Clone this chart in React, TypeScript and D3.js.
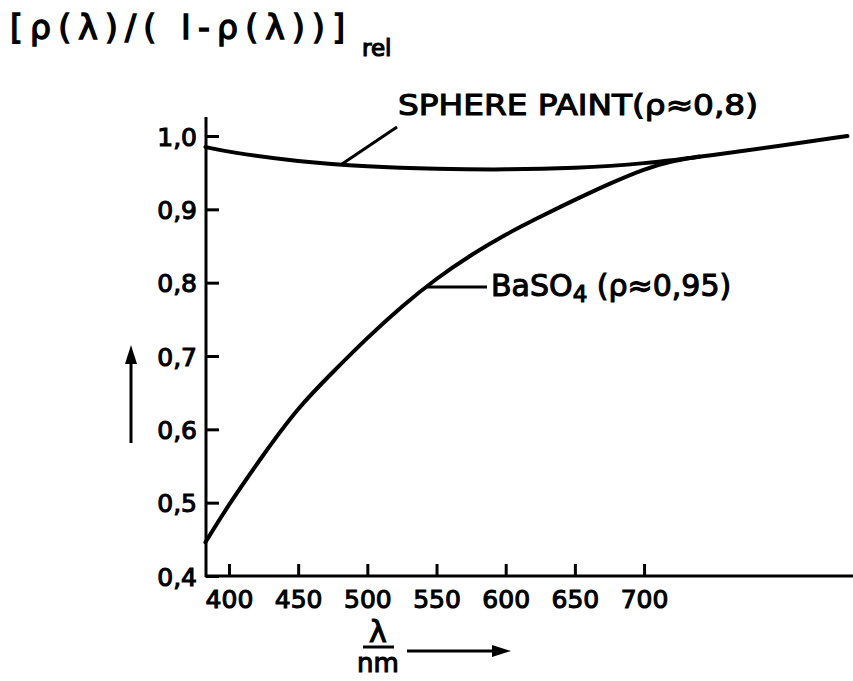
import React, { useEffect, useRef } from 'react';
import * as d3 from 'd3';

// wavelength (nm) and relative values
const sphereNm = [383, 400, 450, 500, 550, 600, 650, 700, 750, 800, 847];
const sphereVal = [0.985, 0.978, 0.965, 0.958, 0.955, 0.954, 0.956, 0.962, 0.974, 0.987, 1.0];

const baso4Nm = [383, 400, 425, 450, 475, 500, 525, 550, 575, 600, 625, 650, 675, 700, 720, 740];
const baso4Val = [0.446, 0.498, 0.566, 0.63, 0.678, 0.725, 0.768, 0.806, 0.838, 0.866, 0.89, 0.913, 0.935, 0.955, 0.966, 0.972];

const xTicks = [400, 450, 500, 550, 600, 650, 700];
const yTicks = [0.4, 0.5, 0.6, 0.7, 0.8, 0.9, 1.0];

const font = "'DejaVu Sans', sans-serif";

const App = () => {
  const ref = useRef<SVGGElement>(null);
  const width = 853;
  const height = 681;

  useEffect(() => {
    const g = d3.select(ref.current);
    g.selectAll('*').remove();

    const x = d3.scaleLinear().domain([383.4, 851]).range([206, 853]);
    const y = d3.scaleLinear().domain([0.4, 1.0]).range([576, 136]);

    // heavy lettering look: regular glyphs with a thin outline
    const letter = (sel: any, size: number, sw = 1.1) =>
      sel
        .attr('font-family', font)
        .attr('font-size', size)
        .attr('fill', '#000')
        .attr('stroke', '#000')
        .attr('stroke-width', sw);

    // axis lines
    g.append('line')
      .attr('x1', 206).attr('x2', 206).attr('y1', 117).attr('y2', 577)
      .attr('stroke', '#000').attr('stroke-width', 3);
    g.append('line')
      .attr('x1', 205).attr('x2', 853).attr('y1', 576).attr('y2', 576)
      .attr('stroke', '#000').attr('stroke-width', 3);

    const fmt = (d: number) => d.toFixed(1).replace('.', ',');

    const yAx = g.append('g')
      .attr('transform', 'translate(206,0)')
      .call(d3.axisLeft(y).tickValues(yTicks).tickSizeInner(-13).tickSizeOuter(0).tickPadding(9).tickFormat(fmt as any));
    yAx.select('.domain').remove();
    yAx.selectAll('.tick line').attr('stroke', '#000').attr('stroke-width', 3);
    letter(yAx.selectAll('.tick text'), 25).attr('dy', '0.36em');

    const xAx = g.append('g')
      .attr('transform', 'translate(0,576)')
      .call(d3.axisBottom(x).tickValues(xTicks).tickSizeInner(-12).tickSizeOuter(0).tickFormat(d3.format('d') as any));
    xAx.select('.domain').remove();
    xAx.selectAll('.tick line').attr('stroke', '#000').attr('stroke-width', 3);
    letter(xAx.selectAll('.tick text'), 25).attr('y', 32).attr('dy', 0);

    const line = d3.line<[number, number]>()
      .x((d) => x(d[0]))
      .y((d) => y(d[1]))
      .curve(d3.curveBasis);

    const sphere = sphereNm.map((n, i) => [n, sphereVal[i]] as [number, number]);
    const baso4 = baso4Nm.map((n, i) => [n, baso4Val[i]] as [number, number]);

    g.selectAll('.curve')
      .data([sphere, baso4])
      .join('path')
      .attr('class', 'curve')
      .attr('d', (d) => line(d))
      .attr('fill', 'none')
      .attr('stroke', '#000')
      .attr('stroke-width', 4)
      .attr('stroke-linecap', 'round');

    // leader lines
    g.append('line')
      .attr('x1', 342).attr('y1', 164).attr('x2', 397).attr('y2', 127)
      .attr('stroke', '#000').attr('stroke-width', 3);
    g.append('line')
      .attr('x1', 427).attr('y1', 287).attr('x2', 487).attr('y2', 287)
      .attr('stroke', '#000').attr('stroke-width', 3);

    // curve labels
    letter(g.append('text'), 29)
      .attr('x', 398).attr('y', 115)
      .attr('textLength', 360).attr('lengthAdjust', 'spacingAndGlyphs')
      .text('SPHERE PAINT(ρ≈0,8)');

    const b = letter(g.append('text'), 30).attr('x', 491).attr('y', 296);
    b.append('tspan').text('BaSO');
    b.append('tspan').attr('font-size', 23).attr('dy', 6).text('4');
    b.append('tspan').attr('dy', -6).text(' (ρ≈0,95)');

    // y title
    letter(g.append('text'), 33, 1.4)
      .attr('x', 10).attr('y', 39)
      .attr('textLength', 335).attr('lengthAdjust', 'spacing')
      .text('[ρ(λ)/( I-ρ(λ))]');
    letter(g.append('text'), 23, 1.2)
      .attr('x', 362).attr('y', 56)
      .text('rel');

    // up arrow
    g.append('line')
      .attr('x1', 131).attr('x2', 131).attr('y1', 443).attr('y2', 360)
      .attr('stroke', '#000').attr('stroke-width', 3);
    g.append('path')
      .attr('d', 'M131,345 L125,364 L137,364 Z')
      .attr('fill', '#000');

    // x title
    letter(g.append('text'), 30)
      .attr('x', 378).attr('y', 642).attr('text-anchor', 'middle')
      .text('λ');
    g.append('line')
      .attr('x1', 363).attr('x2', 394).attr('y1', 647).attr('y2', 647)
      .attr('stroke', '#000').attr('stroke-width', 3);
    letter(g.append('text'), 26)
      .attr('x', 378).attr('y', 672).attr('text-anchor', 'middle')
      .text('nm');
    g.append('line')
      .attr('x1', 407).attr('x2', 495).attr('y1', 651).attr('y2', 651)
      .attr('stroke', '#000').attr('stroke-width', 3);
    g.append('path')
      .attr('d', 'M511,651 L492,645 L492,657 Z')
      .attr('fill', '#000');
  }, []);

  return (
    <svg
      width={width}
      height={height}
      style={{ position: 'absolute', left: 0, top: 0, background: '#fff' }}
    >
      <g ref={ref} />
    </svg>
  );
};

export default App;
